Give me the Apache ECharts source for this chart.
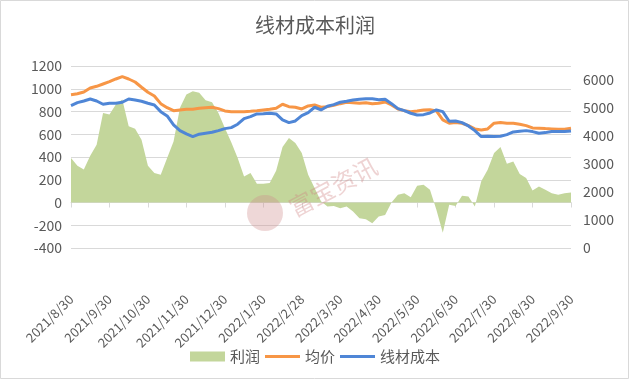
<!DOCTYPE html>
<html><head><meta charset="utf-8">
<script src="https://cdn.jsdelivr.net/npm/echarts@6/dist/echarts.min.js"></script>
<style>html,body{margin:0;padding:0;background:#fff}#c{width:630px;height:381px}</style>
</head><body><div id="c"></div>
<script>
const categories = [
 '2021/8/30','2021/9/4','2021/9/9','2021/9/14','2021/9/19','2021/9/24',
 '2021/9/30','2021/10/5','2021/10/10','2021/10/15','2021/10/20','2021/10/25',
 '2021/10/30','2021/11/4','2021/11/9','2021/11/14','2021/11/19','2021/11/24',
 '2021/11/30','2021/12/5','2021/12/10','2021/12/15','2021/12/20','2021/12/25',
 '2021/12/30','2022/1/4','2022/1/9','2022/1/14','2022/1/19','2022/1/24',
 '2022/1/30','2022/2/4','2022/2/9','2022/2/14','2022/2/19','2022/2/24',
 '2022/2/28','2022/3/5','2022/3/10','2022/3/15','2022/3/20','2022/3/25',
 '2022/3/30','2022/4/4','2022/4/9','2022/4/14','2022/4/19','2022/4/24',
 '2022/4/30','2022/5/5','2022/5/10','2022/5/15','2022/5/20','2022/5/25',
 '2022/5/30','2022/6/4','2022/6/9','2022/6/14','2022/6/19','2022/6/24',
 '2022/6/30','2022/7/5','2022/7/10','2022/7/15','2022/7/20','2022/7/25',
 '2022/7/30','2022/8/4','2022/8/9','2022/8/14','2022/8/19','2022/8/24',
 '2022/8/30','2022/9/4','2022/9/9','2022/9/14','2022/9/19','2022/9/24',
 '2022/9/30'
];
const profit = [
 391,323,290,411,508,787,773,861,905,670,
 649,552,323,259,244,391,537,832,949,978,
 964,899,881,787,655,529,391,229,259,165,
 165,171,280,488,567,523,435,244,127,10,
 -35,-30,-50,-35,-79,-138,-147,-182,-123,-109,
 0,68,82,47,147,156,112,-64,-267,-20,
 -30,60,53,-35,186,288,435,488,340,361,
 250,215,105,141,112,82,68,82,88
];
const avgPrice = [
 5476,5511,5572,5715,5775,5857,5939,6036,6118,6036,
 5929,5740,5561,5430,5155,5012,4905,4930,4955,4955,
 4991,5012,5027,4977,4895,4870,4870,4870,4884,4905,
 4930,4955,4991,5134,5048,5027,4966,5073,5109,5027,
 5048,5098,5155,5205,5191,5169,5191,5155,5169,5216,
 5109,4966,4905,4870,4895,4930,4941,4895,4574,4456,
 4478,4456,4371,4253,4217,4253,4456,4478,4456,4456,
 4421,4371,4289,4278,4264,4253,4242,4242,4278
];
const wireCost = [
 5084,5191,5251,5322,5251,5134,5169,5169,5205,5322,
 5287,5241,5169,5109,4870,4717,4396,4192,4075,3979,
 4064,4100,4135,4192,4264,4299,4421,4620,4692,4788,
 4798,4813,4788,4574,4478,4538,4727,4834,5027,4930,
 5062,5119,5205,5241,5287,5312,5333,5333,5298,5312,
 5155,4977,4905,4813,4752,4763,4823,4930,4870,4528,
 4538,4478,4360,4192,3979,3993,3979,3993,4050,4146,
 4171,4192,4157,4100,4121,4157,4157,4157,4182
];
const seriesNames = ['利润','均价','线材成本'];
const leftTicks = {min:-400, max:1200, interval:200};
const rightTicks = {min:0, max:6500, interval:1000};

const txt = '#595959';
const font = 'Noto Sans CJK SC';
const green = '#C3D69B', orange = '#F79646', blue = '#4F86D6';
const lineIcon = 'path://M0,0L35,0L35,3L0,3Z';
const chart = echarts.init(document.getElementById('c'), null, {renderer:'canvas'});
chart.setOption({
  animation:false,
  backgroundColor:'#fff',
  textStyle:{fontFamily:font},
  title:{text:'线材成本利润', left:'center', top:15, padding:0,
    textStyle:{fontSize:20, fontWeight:'normal', color:txt, fontFamily:font}},
  legend:{top:344, left:'center', itemWidth:35, itemHeight:10, itemGap:5,
    textStyle:{fontSize:15, color:txt, fontFamily:font},
    data:[
      {name:seriesNames[0], icon:'rect', itemStyle:{color:green}},
      {name:seriesNames[1], icon:lineIcon, itemStyle:{color:orange}},
      {name:seriesNames[2], icon:lineIcon, itemStyle:{color:blue}}
    ]},
  grid:{left:71, right:59, top:66, bottom:133, containLabel:false},
  xAxis:{type:'category', data:categories, boundaryGap:false,
    axisLine:{onZero:true, onZeroAxisIndex:0, lineStyle:{color:'#d9d9d9', width:1}},
    axisTick:{show:true, interval:5, length:5, lineStyle:{color:'#d9d9d9'}},
    axisLabel:{interval:5, rotate:45, margin:49, fontSize:13, color:txt, fontFamily:font},
    splitLine:{show:false}},
  yAxis:[
    {type:'value', min:leftTicks.min, max:leftTicks.max, interval:leftTicks.interval,
     axisLine:{show:false}, axisTick:{show:false},
     axisLabel:{fontSize:14, color:txt, margin:9, fontFamily:font, formatter:v => String(v)},
     splitLine:{lineStyle:{color:'#d9d9d9', width:1}}},
    {type:'value', min:rightTicks.min, max:rightTicks.max, interval:rightTicks.interval,
     axisLine:{show:false}, axisTick:{show:false},
     axisLabel:{fontSize:14, color:txt, margin:12, showMaxLabel:false, fontFamily:font, formatter:v => String(v)},
     splitLine:{show:false}}
  ],
  series:[
    {name:seriesNames[0], type:'line', yAxisIndex:0, data:profit, symbol:'none',
     lineStyle:{width:0, color:green}, itemStyle:{color:green},
     areaStyle:{color:green, opacity:1}, z:1},
    {name:seriesNames[1], type:'line', yAxisIndex:1, data:avgPrice, symbol:'none',
     lineStyle:{width:3, color:orange}, itemStyle:{color:orange}, z:3},
    {name:seriesNames[2], type:'line', yAxisIndex:1, data:wireCost, symbol:'none',
     lineStyle:{width:3, color:blue}, itemStyle:{color:blue}, z:4}
  ],
  graphic:[
    {type:'rect', z:0, silent:true, shape:{x:0.5, y:0.5, width:628, height:378},
     style:{fill:'none', stroke:'#d9d9d9', lineWidth:1}},
    {type:'circle', z:100, silent:true, shape:{cx:265, cy:213, r:18},
     style:{fill:'rgba(205,140,140,0.35)'}},
    {type:'text', z:100, silent:true, x:333, y:187, rotation:0.49,
     style:{text:'富宝资讯', fontSize:24, fontFamily:font, fill:'rgba(205,130,130,0.35)',
       align:'center', verticalAlign:'middle'}}
  ]
});
</script></body></html>
